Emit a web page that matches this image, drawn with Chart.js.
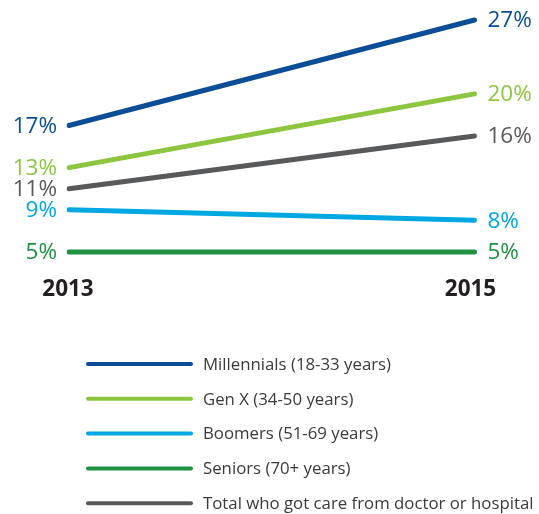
<!DOCTYPE html>
<html>
<head>
<meta charset="utf-8">
<script src="https://cdn.jsdelivr.net/npm/chart.js@4.4.1/dist/chart.umd.min.js"></script>
<style>
  html, body { margin: 0; padding: 0; background: #fff; }
  #wrap { width: 539px; height: 514px; }
</style>
</head>
<body>
<div id="wrap"><canvas id="chart"></canvas></div>
<script>
const years = ['2013', '2015'];
const seriesNames = [
  'Millennials (18-33 years)',
  'Gen X (34-50 years)',
  'Boomers (51-69 years)',
  'Seniors (70+ years)',
  'Total who got care from doctor or hospital'
];
const millennials = [17, 27];
const genX = [13, 20];
const boomers = [9, 8];
const seniors = [5, 5];
const total = [11, 16];

const colors = ['#0b4e97', '#8cc63f', '#00a8e1', '#1f9142', '#58595b'];

const FONT = '"Open Sans", "Noto Sans", sans-serif';

// value labels, year labels and a stacked legend, all drawn from the chart data
const labelPlugin = {
  id: 'labels',
  afterDatasetsDraw(chart) {
    const ctx = chart.ctx;
    const xs = chart.scales.x;
    const ys = chart.scales.y;
    ctx.save();
    ctx.textBaseline = 'middle';
    ctx.font = '22.5px ' + FONT;
    chart.data.datasets.forEach(ds => {
      ctx.fillStyle = ds.borderColor;
      const y0 = ys.getPixelForValue(ds.data[0]);
      const y1 = ys.getPixelForValue(ds.data[1]);
      ctx.textAlign = 'right';
      ctx.fillText(ds.data[0] + '%', xs.getPixelForValue(0) - 12, y0 + 1);
      ctx.textAlign = 'left';
      ctx.fillText(ds.data[1] + '%', xs.getPixelForValue(1) + 13, y1 + 1);
    });

    // years
    ctx.fillStyle = '#231f20';
    ctx.font = 'bold 22.5px ' + FONT;
    ctx.textAlign = 'center';
    chart.data.labels.forEach((lab, i) => {
      const dx = i === 0 ? -1 : -4;
      ctx.fillText(lab, xs.getPixelForValue(i) + dx, 290);
    });

    // legend
    ctx.font = '16.8px ' + FONT;
    ctx.textAlign = 'left';
    ctx.lineCap = 'round';
    ctx.lineWidth = 4;
    chart.data.datasets.forEach((ds, k) => {
      const y = 364 + k * 34.8;
      ctx.strokeStyle = ds.borderColor;
      ctx.beginPath();
      ctx.moveTo(88, y);
      ctx.lineTo(191, y);
      ctx.stroke();
      ctx.fillStyle = '#3a3a3a';
      ctx.fillText(ds.label, 203, y + 1);
    });
    ctx.restore();
  }
};

const values = [millennials, genX, boomers, seniors, total];

new Chart(document.getElementById('chart'), {
  type: 'line',
  data: {
    labels: years,
    datasets: values.map((v, i) => ({
      label: seriesNames[i],
      data: v,
      borderColor: colors[i],
      backgroundColor: colors[i],
      borderWidth: 5,
      borderCapStyle: 'round',
      pointRadius: 0,
      fill: false,
      tension: 0
    }))
  },
  options: {
    responsive: true,
    maintainAspectRatio: false,
    animation: false,
    layout: { padding: { left: 69, right: 64.5, top: 9.5, bottom: 230.4 } },
    scales: {
      x: { display: false, offset: false },
      y: { display: false, min: 2, max: 28 }
    },
    plugins: {
      legend: { display: false },
      tooltip: { enabled: false }
    }
  },
  plugins: [labelPlugin]
});
</script>
</body>
</html>
